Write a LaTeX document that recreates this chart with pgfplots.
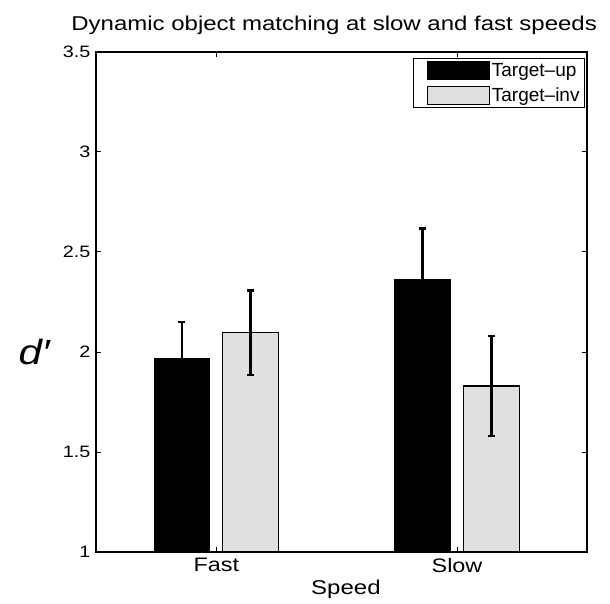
\documentclass[border=0pt]{standalone}
\usepackage{pgfplots}
\pgfplotsset{compat=1.18}
\usepackage{fontspec}
\setmainfont[FakeStretch=1.2]{Liberation Sans}
\newfontfamily\legfont[Ligatures=TeX]{Liberation Sans}
\definecolor{lgray}{RGB}{224,224,224}
\begin{document}
\begin{tikzpicture}
\begin{axis}[
  name=ax,
  scale only axis,
  width=491pt, height=500pt,
  xmin=0.5, xmax=2.54,
  ymin=1, ymax=3.5,
  xtick={1,2}, xticklabels={Fast,Slow},
  ytick={1,1.5,2,2.5,3,3.5},
  yticklabels={1,1.5,2,2.5,3,3.5},
  tick align=inside,
  major tick length=5pt,
  xtick pos=both, ytick pos=both,
  axis line style={line width=1.2pt},
  every tick/.style={line width=1pt,black},
  /pgf/number format/assume math mode=true,
  yticklabel style={font=\fontsize{16.5}{18}\selectfont, xshift=-2pt},
  xticklabel style={font=\fontsize{19.5}{21}\selectfont, yshift=-3pt},
  title={Dynamic object matching at slow and fast speeds},
  title style={font=\fontsize{20}{22}\selectfont, at={(axis description cs:0.485,1)}, anchor=south, yshift=8pt},
  xlabel={Speed},
  xlabel style={font=\fontsize{20}{22}\selectfont, at={(axis description cs:0.509,0)}, anchor=north, yshift=-24pt},
  ylabel={\itshape d′},
  ylabel style={font=\fontsize{35}{38}\selectfont, rotate=-90, at={(axis description cs:-0.126,0.4)}, anchor=center},
  legend style={at={(0.996,0.988)}, anchor=north east, draw=black, line width=1pt,
    font=\legfont\fontsize{19}{20}\selectfont, row sep=5pt, inner xsep=3pt, inner ysep=3pt},
  legend cell align=left,
  legend image code/.code={\path[draw=none,fill=none] (0pt,-9pt) rectangle (72pt,9pt); \draw[#1, line width=1pt] (11pt,-9pt) rectangle (73pt,9pt);},
]
\addplot[ybar, bar width=0.232, bar shift=0pt, fill=black, draw=black, line width=1pt,
  error bars/.cd, y dir=both, y explicit,
  error bar style={line width=2.8pt, black},
  error mark options={line width=2.5pt, mark size=3.5pt, black, rotate=90}]
  coordinates {(0.857,1.968) +- (0,0.182) (1.857,2.363) +- (0,0.255)};
\addlegendentry{Target--up}
\addplot[ybar, bar width=0.232, bar shift=0pt, fill=lgray, draw=black, line width=1.2pt,
  error bars/.cd, y dir=both, y explicit,
  error bar style={line width=2.8pt, black},
  error mark options={line width=2.5pt, mark size=3.5pt, black, rotate=90}]
  coordinates {(1.143,2.097) +- (0,0.211) (2.143,1.830) +- (0,0.251)};
\addlegendentry{Target--inv}
\end{axis}
\path (ax.south west) ++(-96pt,-51pt) coordinate (bbsw);
\path (ax.north east) ++(23pt,52pt) coordinate (bbne);
\useasboundingbox (bbsw) rectangle (bbne);
\end{tikzpicture}
\end{document}
